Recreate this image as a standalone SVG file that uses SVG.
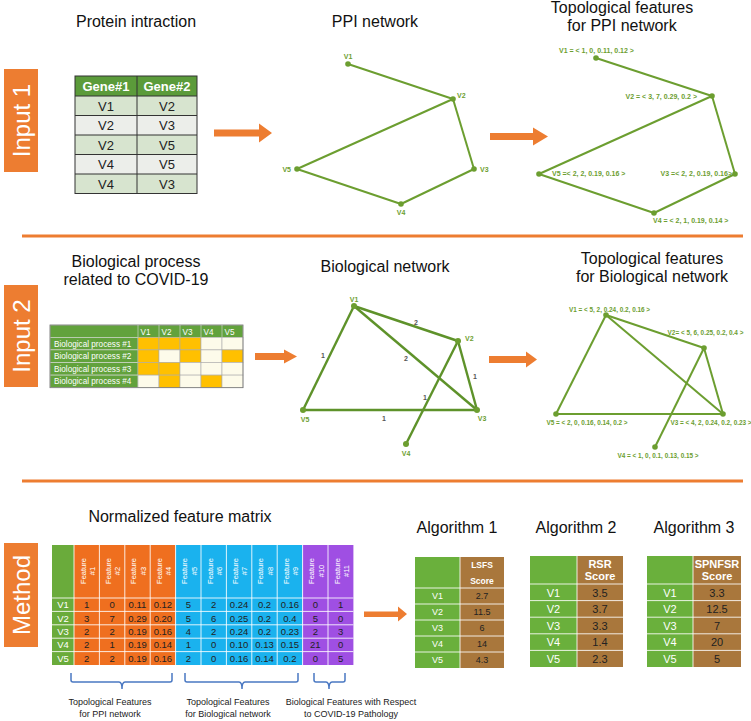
<svg xmlns="http://www.w3.org/2000/svg" width="751" height="721" viewBox="0 0 751 721">
<style>
text{font-family:"Liberation Sans",Arial,sans-serif}
.title{font-size:16px;fill:#111;text-anchor:middle}
.tag{fill:#ED7D31}
.tagt{font-size:24px;fill:#fff;text-anchor:middle}
.sep{stroke:#ED7D31;stroke-width:3}
.arr{fill:#ED7D31}
.edge{stroke:#6C9E30;stroke-width:2;fill:none}
.bedge{stroke:#5E922A;stroke-width:2.4;fill:none}
.dot{fill:#6C9E30}
.nl{font-size:7px;font-weight:bold;fill:#6C9E30}
.fl{font-size:7px;font-weight:bold;fill:#6C9E30}
.fl2{font-size:6.4px;font-weight:bold;fill:#6C9E30;text-anchor:middle}
.wl{font-size:7px;font-weight:bold;fill:#555;text-anchor:middle}
.gh{font-size:13px;font-weight:bold;fill:#fff;text-anchor:middle}
.gc{font-size:13px;fill:#222;text-anchor:middle}
.gb{stroke:#333;stroke-width:1;fill:none}
.bt{font-size:8.2px;fill:#fff}
.bo{fill:#FFC000;stroke:#aaa;stroke-width:0.6}
.bc{fill:#FDFBEA;stroke:#aaa;stroke-width:0.6}
.bg{fill:#62A23C;stroke:#ddd;stroke-width:0.6}
.fh{font-size:7.5px;fill:#fff;text-anchor:middle}
.fd{font-size:9.5px;fill:#222;text-anchor:middle}
.fv{font-size:9.5px;fill:#fff;text-anchor:middle}
.grid{stroke:#fff;stroke-width:1;stroke-opacity:0.85}
.br{stroke:#4A78C2;stroke-width:1.5;fill:none}
.bl{font-size:9px;fill:#222;text-anchor:middle}
.ag{fill:#6AB03C}
.ab{fill:#A9773C}
.ah1{font-size:8.5px;font-weight:bold;fill:#fff;text-anchor:middle}
.ah{font-size:11px;font-weight:bold;fill:#fff;text-anchor:middle}
.av1{font-size:9px;fill:#fff;text-anchor:middle}
.ad1{font-size:9px;fill:#222;text-anchor:middle}
.av{font-size:11px;fill:#fff;text-anchor:middle}
.ad{font-size:11px;fill:#222;text-anchor:middle}
</style>

<!-- Section tags -->
<g id="tag-input1"><rect class="tag" x="4" y="69" width="34" height="103"/><text class="tagt" transform="translate(21,120.5) rotate(-90)" y="8.5">Input 1</text></g>
<g id="tag-input2"><rect class="tag" x="4" y="285" width="34" height="102"/><text class="tagt" transform="translate(21,336) rotate(-90)" y="8.5">Input 2</text></g>
<g id="tag-method"><rect class="tag" x="4" y="543" width="34" height="104"/><text class="tagt" transform="translate(21,595) rotate(-90)" y="8.5">Method</text></g>

<g id="separators">
<line class="sep" x1="22" y1="236" x2="743" y2="236"/>
<line class="sep" x1="22" y1="481" x2="743" y2="481"/>
</g>

<!-- Titles -->
<g id="titles">
<text class="title" x="136" y="27">Protein intraction</text>
<text class="title" x="375" y="27">PPI network</text>
<text class="title" x="622" y="13">Topological features</text>
<text class="title" x="622" y="31">for PPI network</text>
<text class="title" x="136" y="267">Biological process</text>
<text class="title" x="136" y="285">related to COVID-19</text>
<text class="title" x="385" y="272">Biological network</text>
<text class="title" x="652" y="264">Topological features</text>
<text class="title" x="652" y="282">for Biological network</text>
<text class="title" x="180" y="522">Normalized feature matrix</text>
<text class="title" x="457" y="533">Algorithm 1</text>
<text class="title" x="576" y="533">Algorithm 2</text>
<text class="title" x="694" y="533">Algorithm 3</text>
</g>

<!-- Gene table -->
<g id="gene-table">
<rect x="75" y="76" width="122" height="20" fill="#5B9B3A"/>
<rect x="75" y="96" width="122" height="19.5" fill="#D7E4CF"/>
<rect x="75" y="115.5" width="122" height="19.5" fill="#ECEEEA"/>
<rect x="75" y="135" width="122" height="19.5" fill="#D7E4CF"/>
<rect x="75" y="154.5" width="122" height="19.5" fill="#ECEEEA"/>
<rect x="75" y="174" width="122" height="19.5" fill="#D7E4CF"/>
<rect class="gb" x="75" y="76" width="122" height="117.5"/>
<line class="gb" x1="137" y1="76" x2="137" y2="193.5"/>
<line class="gb" x1="75" y1="96" x2="197" y2="96"/>
<line class="gb" x1="75" y1="115.5" x2="197" y2="115.5"/>
<line class="gb" x1="75" y1="135" x2="197" y2="135"/>
<line class="gb" x1="75" y1="154.5" x2="197" y2="154.5"/>
<line class="gb" x1="75" y1="174" x2="197" y2="174"/>
<text class="gh" x="106" y="91">Gene#1</text><text class="gh" x="167" y="91">Gene#2</text>
<text class="gc" x="106" y="110.5">V1</text><text class="gc" x="167" y="110.5">V2</text>
<text class="gc" x="106" y="130">V2</text><text class="gc" x="167" y="130">V3</text>
<text class="gc" x="106" y="149.5">V2</text><text class="gc" x="167" y="149.5">V5</text>
<text class="gc" x="106" y="169">V4</text><text class="gc" x="167" y="169">V5</text>
<text class="gc" x="106" y="188.5">V4</text><text class="gc" x="167" y="188.5">V3</text>
</g>

<!-- Connectors -->
<g id="connectors">
<path class="arr" d="M214,129.5 H259 V123.5 L272,133 L259,142.5 V136.5 H214 Z"/>
<path class="arr" d="M490,133 H533 V127.5 L548,136.5 L533,145.5 V140 H490 Z"/>
<path class="arr" d="M255,353 H284 V349.5 L297,356.5 L284,363.5 V360 H255 Z"/>
<path class="arr" d="M489,356 H526 V351.5 L537,359.5 L526,367.5 V363 H489 Z"/>
<path class="arr" d="M364,611.5 H398 V606.5 L407,614 L398,621.5 V617 H364 Z"/>
<!-- PPI network -->
<line class="edge" x1="348" y1="64" x2="453" y2="99"/>
<line class="edge" x1="453" y1="99" x2="297" y2="169"/>
<line class="edge" x1="453" y1="99" x2="474" y2="169"/>
<line class="edge" x1="474" y1="169" x2="401" y2="204"/>
<line class="edge" x1="401" y1="204" x2="297" y2="169"/>
<!-- PPI topological -->
<line class="edge" x1="596" y1="58" x2="712" y2="96"/>
<line class="edge" x1="712" y1="96" x2="539" y2="174"/>
<line class="edge" x1="712" y1="96" x2="735" y2="174"/>
<line class="edge" x1="735" y1="174" x2="654" y2="213"/>
<line class="edge" x1="654" y1="213" x2="539" y2="174"/>
<!-- Biological network -->
<line class="bedge" x1="354" y1="306" x2="458" y2="341"/>
<line class="bedge" x1="354" y1="306" x2="477" y2="410"/>
<line class="bedge" x1="354" y1="306" x2="303" y2="410"/>
<line class="bedge" x1="303" y1="410" x2="477" y2="410"/>
<line class="bedge" x1="458" y1="341" x2="477" y2="410"/>
<line class="bedge" x1="458" y1="341" x2="406" y2="444"/>
<text class="wl" x="416" y="324.5">2</text>
<text class="wl" x="406" y="360.5">2</text>
<text class="wl" x="323" y="357.5">1</text>
<text class="wl" x="384" y="420.5">1</text>
<text class="wl" x="475" y="378.5">1</text>
<text class="wl" x="425" y="399.5">1</text>
<!-- Biological topological -->
<line class="edge" x1="606" y1="315" x2="704" y2="348"/>
<line class="edge" x1="606" y1="315" x2="723" y2="414"/>
<line class="edge" x1="606" y1="315" x2="556" y2="414"/>
<line class="edge" x1="556" y1="414" x2="723" y2="414"/>
<line class="edge" x1="704" y1="348" x2="723" y2="414"/>
<line class="edge" x1="704" y1="348" x2="655" y2="447"/>
</g>

<!-- PPI network nodes -->
<g id="ppi-v1"><circle class="dot" cx="348" cy="64" r="2.8"/><text class="nl" x="348" y="58.5" text-anchor="middle">V1</text></g>
<g id="ppi-v2"><circle class="dot" cx="453" cy="99" r="2.8"/><text class="nl" x="457" y="97.5">V2</text></g>
<g id="ppi-v3"><circle class="dot" cx="474" cy="169" r="2.8"/><text class="nl" x="480" y="171.5">V3</text></g>
<g id="ppi-v4"><circle class="dot" cx="401" cy="204" r="2.8"/><text class="nl" x="401" y="215" text-anchor="middle">V4</text></g>
<g id="ppi-v5"><circle class="dot" cx="297" cy="169" r="2.8"/><text class="nl" x="291" y="171.5" text-anchor="end">V5</text></g>

<!-- PPI topological nodes -->
<g id="tppi-v1"><circle class="dot" cx="596" cy="58" r="2.8"/><text class="fl" x="559" y="52.5">V1 = &lt; 1, 0, 0.11, 0.12 &gt;</text></g>
<g id="tppi-v2"><circle class="dot" cx="712" cy="96" r="2.8"/><text class="fl" x="697" y="99" text-anchor="end">V2 = &lt; 3, 7, 0.29, 0.2 &gt;</text></g>
<g id="tppi-v3"><circle class="dot" cx="735" cy="174" r="2.8"/><text class="fl" x="732" y="176" text-anchor="end">V3 =&lt; 2, 2, 0.19, 0.16&gt;</text></g>
<g id="tppi-v4"><circle class="dot" cx="654" cy="213" r="2.8"/><text class="fl" x="653" y="222.5">V4 = &lt; 2, 1, 0.19, 0.14 &gt;</text></g>
<g id="tppi-v5"><circle class="dot" cx="539" cy="174" r="2.8"/><text class="fl" x="552" y="176">V5 =&lt; 2, 2, 0.19, 0.16 &gt;</text></g>

<!-- Biological process table -->
<g id="bio-table">
<rect class="bg" x="50" y="325" width="193" height="12.3"/>
<rect class="bg" x="50" y="337.3" width="88" height="12.6"/>
<rect class="bg" x="50" y="349.9" width="88" height="12.6"/>
<rect class="bg" x="50" y="362.5" width="88" height="12.6"/>
<rect class="bg" x="50" y="375.1" width="88" height="12.6"/>
<rect class="bo" x="138" y="337.3" width="21" height="12.6"/><rect class="bo" x="159" y="337.3" width="21" height="12.6"/><rect class="bo" x="180" y="337.3" width="21" height="12.6"/><rect class="bc" x="201" y="337.3" width="21" height="12.6"/><rect class="bc" x="222" y="337.3" width="21" height="12.6"/>
<rect class="bo" x="138" y="349.9" width="21" height="12.6"/><rect class="bc" x="159" y="349.9" width="21" height="12.6"/><rect class="bo" x="180" y="349.9" width="21" height="12.6"/><rect class="bc" x="201" y="349.9" width="21" height="12.6"/><rect class="bo" x="222" y="349.9" width="21" height="12.6"/>
<rect class="bo" x="138" y="362.5" width="21" height="12.6"/><rect class="bo" x="159" y="362.5" width="21" height="12.6"/><rect class="bc" x="180" y="362.5" width="21" height="12.6"/><rect class="bc" x="201" y="362.5" width="21" height="12.6"/><rect class="bc" x="222" y="362.5" width="21" height="12.6"/>
<rect class="bc" x="138" y="375.1" width="21" height="12.6"/><rect class="bo" x="159" y="375.1" width="21" height="12.6"/><rect class="bc" x="180" y="375.1" width="21" height="12.6"/><rect class="bo" x="201" y="375.1" width="21" height="12.6"/><rect class="bc" x="222" y="375.1" width="21" height="12.6"/>
<rect x="50" y="325" width="193" height="62.7" fill="none" stroke="#777" stroke-width="0.8"/>
<g stroke="#ddd" stroke-width="0.6"><line x1="138" y1="325" x2="138" y2="337.3"/><line x1="159" y1="325" x2="159" y2="337.3"/><line x1="180" y1="325" x2="180" y2="337.3"/><line x1="201" y1="325" x2="201" y2="337.3"/><line x1="222" y1="325" x2="222" y2="337.3"/></g>
<text class="bt" x="140.5" y="334.5">V1</text><text class="bt" x="161.5" y="334.5">V2</text><text class="bt" x="182.5" y="334.5">V3</text><text class="bt" x="203.5" y="334.5">V4</text><text class="bt" x="224.5" y="334.5">V5</text>
<text class="bt" x="54" y="346.6">Biological process #1</text>
<text class="bt" x="54" y="359.2">Biological process #2</text>
<text class="bt" x="54" y="371.8">Biological process #3</text>
<text class="bt" x="54" y="384.4">Biological process #4</text>
</g>

<!-- Biological network nodes -->
<g id="bio-v1"><circle class="dot" cx="354" cy="306" r="3"/><text class="nl" x="354" y="301.5" text-anchor="middle">V1</text></g>
<g id="bio-v2"><circle class="dot" cx="458" cy="341" r="3"/><text class="nl" x="465" y="340.8">V2</text></g>
<g id="bio-v3"><circle class="dot" cx="477" cy="410" r="3"/><text class="nl" x="482" y="421" text-anchor="middle">V3</text></g>
<g id="bio-v4"><circle class="dot" cx="406" cy="444" r="3"/><text class="nl" x="406" y="456" text-anchor="middle">V4</text></g>
<g id="bio-v5"><circle class="dot" cx="303" cy="410" r="3"/><text class="nl" x="305" y="422" text-anchor="middle">V5</text></g>

<!-- Biological topological nodes -->
<g id="tbio-v1"><circle class="dot" cx="606" cy="315" r="2.8"/><text class="fl2" x="609.5" y="311.5">V1 = &lt; 5, 2, 0.24, 0.2, 0.16 &gt;</text></g>
<g id="tbio-v2"><circle class="dot" cx="704" cy="348" r="2.8"/><text class="fl2" x="705.5" y="334.5">V2= &lt; 5, 6, 0.25, 0.2, 0.4 &gt;</text></g>
<g id="tbio-v3"><circle class="dot" cx="723" cy="414" r="2.8"/><text class="fl2" x="711" y="424.5">V3 = &lt; 4, 2, 0.24, 0.2, 0.23 &gt;</text></g>
<g id="tbio-v4"><circle class="dot" cx="655" cy="447" r="2.8"/><text class="fl2" x="658" y="457.5">V4 = &lt; 1, 0, 0.1, 0.13, 0.15 &gt;</text></g>
<g id="tbio-v5"><circle class="dot" cx="556" cy="414" r="2.8"/><text class="fl2" x="587" y="424.5">V5 = &lt; 2, 0, 0.16, 0.14, 0.2 &gt;</text></g>

<!-- Feature matrix -->
<g id="feature-matrix">
<rect x="52" y="545" width="22" height="120" fill="#6AAB3B"/>
<rect x="74" y="545" width="101.6" height="120" fill="#EF6F1F"/>
<rect x="175.6" y="545" width="127" height="120" fill="#1AB2EE"/>
<rect x="302.6" y="545" width="50.8" height="120" fill="#9F4FE3"/>
<g class="grid">
<line x1="74" y1="545" x2="74" y2="665"/><line x1="99.4" y1="545" x2="99.4" y2="665"/><line x1="124.8" y1="545" x2="124.8" y2="665"/><line x1="150.2" y1="545" x2="150.2" y2="665"/><line x1="175.6" y1="545" x2="175.6" y2="665"/><line x1="201" y1="545" x2="201" y2="665"/><line x1="226.4" y1="545" x2="226.4" y2="665"/><line x1="251.8" y1="545" x2="251.8" y2="665"/><line x1="277.2" y1="545" x2="277.2" y2="665"/><line x1="302.6" y1="545" x2="302.6" y2="665"/><line x1="328" y1="545" x2="328" y2="665"/>
<line x1="52" y1="598" x2="353.4" y2="598"/><line x1="52" y1="611.4" x2="353.4" y2="611.4"/><line x1="52" y1="624.8" x2="353.4" y2="624.8"/><line x1="52" y1="638.2" x2="353.4" y2="638.2"/><line x1="52" y1="651.6" x2="353.4" y2="651.6"/>
</g>
<text class="fh" transform="translate(86.7,571) rotate(-90)"><tspan x="0" y="-1.2">Feature</tspan><tspan x="0" y="8.4">#1</tspan></text>
<text class="fh" transform="translate(112.1,571) rotate(-90)"><tspan x="0" y="-1.2">Feature</tspan><tspan x="0" y="8.4">#2</tspan></text>
<text class="fh" transform="translate(137.5,571) rotate(-90)"><tspan x="0" y="-1.2">Feature</tspan><tspan x="0" y="8.4">#3</tspan></text>
<text class="fh" transform="translate(162.9,571) rotate(-90)"><tspan x="0" y="-1.2">Feature</tspan><tspan x="0" y="8.4">#4</tspan></text>
<text class="fh" transform="translate(188.3,571) rotate(-90)"><tspan x="0" y="-1.2">Feature</tspan><tspan x="0" y="8.4">#5</tspan></text>
<text class="fh" transform="translate(213.7,571) rotate(-90)"><tspan x="0" y="-1.2">Feature</tspan><tspan x="0" y="8.4">#6</tspan></text>
<text class="fh" transform="translate(239.1,571) rotate(-90)"><tspan x="0" y="-1.2">Feature</tspan><tspan x="0" y="8.4">#7</tspan></text>
<text class="fh" transform="translate(264.5,571) rotate(-90)"><tspan x="0" y="-1.2">Feature</tspan><tspan x="0" y="8.4">#8</tspan></text>
<text class="fh" transform="translate(289.9,571) rotate(-90)"><tspan x="0" y="-1.2">Feature</tspan><tspan x="0" y="8.4">#9</tspan></text>
<text class="fh" transform="translate(315.3,571) rotate(-90)"><tspan x="0" y="-1.2">Feature</tspan><tspan x="0" y="8.4">#10</tspan></text>
<text class="fh" transform="translate(340.7,571) rotate(-90)"><tspan x="0" y="-1.2">Feature</tspan><tspan x="0" y="8.4">#11</tspan></text>
<text class="fv" x="63" y="608.1">V1</text><text class="fv" x="63" y="621.5">V2</text><text class="fv" x="63" y="634.9">V3</text><text class="fv" x="63" y="648.3">V4</text><text class="fv" x="63" y="661.7">V5</text>
<g class="fd">
<text x="86.7" y="608.1">1</text><text x="112.1" y="608.1">0</text><text x="137.5" y="608.1">0.11</text><text x="162.9" y="608.1">0.12</text><text x="188.3" y="608.1">5</text><text x="213.7" y="608.1">2</text><text x="239.1" y="608.1">0.24</text><text x="264.5" y="608.1">0.2</text><text x="289.9" y="608.1">0.16</text><text x="315.3" y="608.1">0</text><text x="340.7" y="608.1">1</text>
<text x="86.7" y="621.5">3</text><text x="112.1" y="621.5">7</text><text x="137.5" y="621.5">0.29</text><text x="162.9" y="621.5">0.20</text><text x="188.3" y="621.5">5</text><text x="213.7" y="621.5">6</text><text x="239.1" y="621.5">0.25</text><text x="264.5" y="621.5">0.2</text><text x="289.9" y="621.5">0.4</text><text x="315.3" y="621.5">5</text><text x="340.7" y="621.5">0</text>
<text x="86.7" y="634.9">2</text><text x="112.1" y="634.9">2</text><text x="137.5" y="634.9">0.19</text><text x="162.9" y="634.9">0.16</text><text x="188.3" y="634.9">4</text><text x="213.7" y="634.9">2</text><text x="239.1" y="634.9">0.24</text><text x="264.5" y="634.9">0.2</text><text x="289.9" y="634.9">0.23</text><text x="315.3" y="634.9">2</text><text x="340.7" y="634.9">3</text>
<text x="86.7" y="648.3">2</text><text x="112.1" y="648.3">1</text><text x="137.5" y="648.3">0.19</text><text x="162.9" y="648.3">0.14</text><text x="188.3" y="648.3">1</text><text x="213.7" y="648.3">0</text><text x="239.1" y="648.3">0.10</text><text x="264.5" y="648.3">0.13</text><text x="289.9" y="648.3">0.15</text><text x="315.3" y="648.3">21</text><text x="340.7" y="648.3">0</text>
<text x="86.7" y="661.7">2</text><text x="112.1" y="661.7">2</text><text x="137.5" y="661.7">0.19</text><text x="162.9" y="661.7">0.16</text><text x="188.3" y="661.7">2</text><text x="213.7" y="661.7">0</text><text x="239.1" y="661.7">0.16</text><text x="264.5" y="661.7">0.14</text><text x="289.9" y="661.7">0.2</text><text x="315.3" y="661.7">0</text><text x="340.7" y="661.7">5</text>
</g>
</g>

<!-- Brackets -->
<g id="bracket-ppi">
<path class="br" d="M71,673 V680 Q71,682 73,682 H119 Q122,682 122,689 Q122,682 125,682 H170 Q172,682 172,680 V673"/>
<text class="bl" x="110" y="705">Topological Features</text><text class="bl" x="110" y="716.5">for PPI network</text>
</g>
<g id="bracket-bio">
<path class="br" d="M185,673 V680 Q185,682 187,682 H239 Q242,682 242,689 Q242,682 245,682 H296 Q298,682 298,680 V673"/>
<text class="bl" x="228" y="705">Topological Features</text><text class="bl" x="228" y="716.5">for Biological network</text>
</g>
<g id="bracket-covid">
<path class="br" d="M314,673 V680 Q314,682 316,682 H326 Q329,682 329,689 Q329,682 332,682 H343 Q345,682 345,680 V673"/>
<text class="bl" x="351" y="705">Biological Features with Respect</text><text class="bl" x="351" y="716.5">to COVID-19 Pathology</text>
</g>

<!-- Algorithm 1 table -->
<g id="alg1-table">
<rect class="ag" x="415" y="557" width="45" height="111"/>
<rect class="ab" x="460" y="557" width="44" height="111"/>
<g class="grid"><line x1="460" y1="557" x2="460" y2="668"/><line x1="415" y1="588" x2="504" y2="588"/><line x1="415" y1="604" x2="504" y2="604"/><line x1="415" y1="620" x2="504" y2="620"/><line x1="415" y1="636" x2="504" y2="636"/><line x1="415" y1="652" x2="504" y2="652"/></g>
<text class="ah1" x="482" y="568">LSFS</text><text class="ah1" x="482" y="584">Score</text>
<text class="av1" x="437.5" y="599">V1</text><text class="ad1" x="482" y="599">2.7</text>
<text class="av1" x="437.5" y="615">V2</text><text class="ad1" x="482" y="615">11.5</text>
<text class="av1" x="437.5" y="631">V3</text><text class="ad1" x="482" y="631">6</text>
<text class="av1" x="437.5" y="647">V4</text><text class="ad1" x="482" y="647">14</text>
<text class="av1" x="437.5" y="663">V5</text><text class="ad1" x="482" y="663">4.3</text>
</g>

<!-- Algorithm 2 table -->
<g id="alg2-table">
<rect class="ag" x="530" y="556" width="47" height="111"/>
<rect class="ab" x="577" y="556" width="46" height="111"/>
<g class="grid"><line x1="577" y1="556" x2="577" y2="667"/><line x1="530" y1="584" x2="623" y2="584"/><line x1="530" y1="600.6" x2="623" y2="600.6"/><line x1="530" y1="617.2" x2="623" y2="617.2"/><line x1="530" y1="633.8" x2="623" y2="633.8"/><line x1="530" y1="650.4" x2="623" y2="650.4"/></g>
<text class="ah" x="600" y="568">RSR</text><text class="ah" x="600" y="580">Score</text>
<text class="av" x="553.5" y="596.5">V1</text><text class="ad" x="600" y="596.5">3.5</text>
<text class="av" x="553.5" y="613">V2</text><text class="ad" x="600" y="613">3.7</text>
<text class="av" x="553.5" y="629.5">V3</text><text class="ad" x="600" y="629.5">3.3</text>
<text class="av" x="553.5" y="646">V4</text><text class="ad" x="600" y="646">1.4</text>
<text class="av" x="553.5" y="662.5">V5</text><text class="ad" x="600" y="662.5">2.3</text>
</g>

<!-- Algorithm 3 table -->
<g id="alg3-table">
<rect class="ag" x="647" y="556" width="46" height="111"/>
<rect class="ab" x="693" y="556" width="48" height="111"/>
<g class="grid"><line x1="693" y1="556" x2="693" y2="667"/><line x1="647" y1="584" x2="741" y2="584"/><line x1="647" y1="600.6" x2="741" y2="600.6"/><line x1="647" y1="617.2" x2="741" y2="617.2"/><line x1="647" y1="633.8" x2="741" y2="633.8"/><line x1="647" y1="650.4" x2="741" y2="650.4"/></g>
<text class="ah" x="717" y="568">SPNFSR</text><text class="ah" x="717" y="580">Score</text>
<text class="av" x="670" y="596.5">V1</text><text class="ad" x="717" y="596.5">3.3</text>
<text class="av" x="670" y="613">V2</text><text class="ad" x="717" y="613">12.5</text>
<text class="av" x="670" y="629.5">V3</text><text class="ad" x="717" y="629.5">7</text>
<text class="av" x="670" y="646">V4</text><text class="ad" x="717" y="646">20</text>
<text class="av" x="670" y="662.5">V5</text><text class="ad" x="717" y="662.5">5</text>
</g>
</svg>
